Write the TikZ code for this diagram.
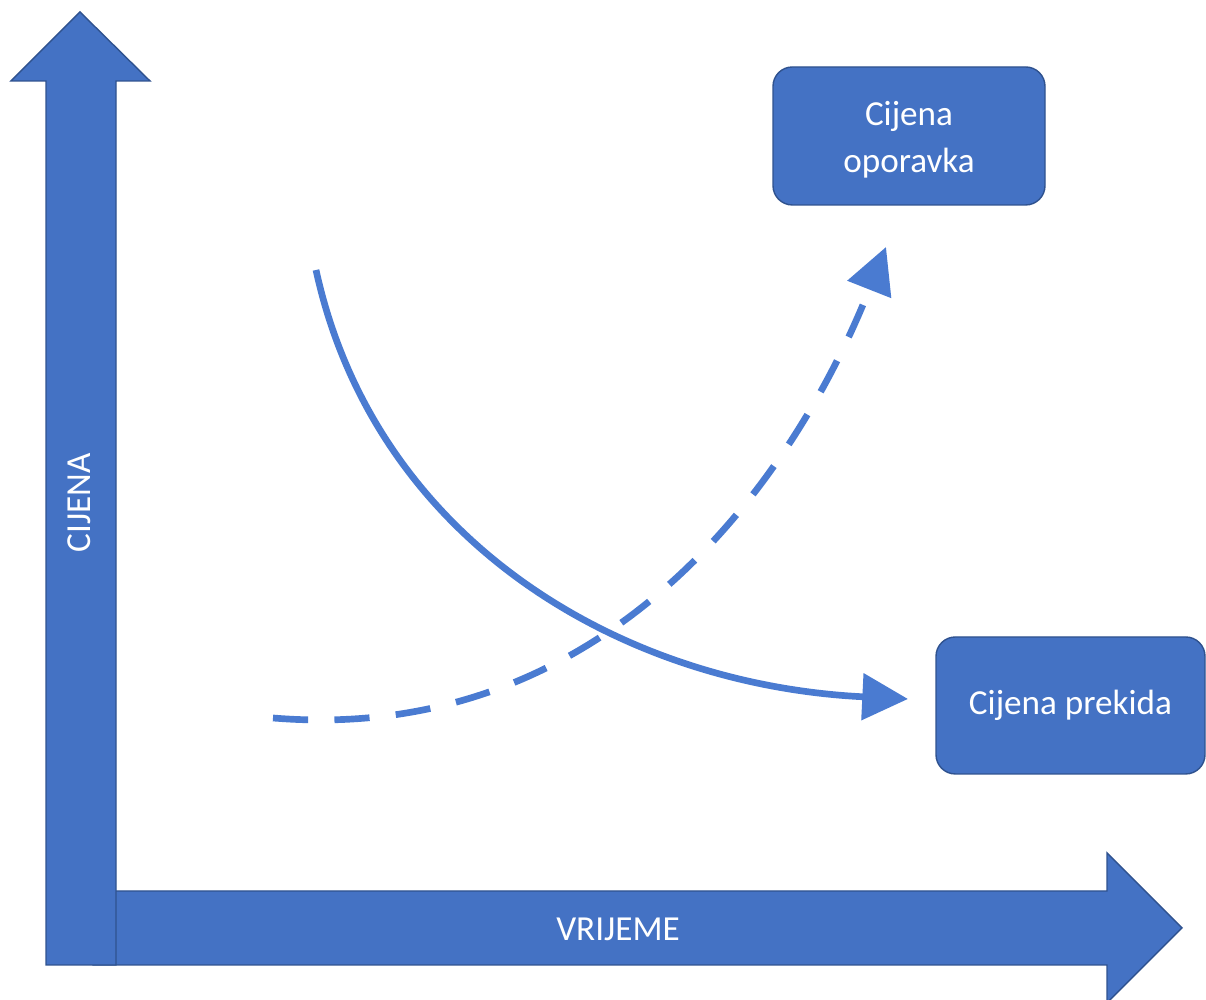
\documentclass[tikz,border=0pt]{standalone}
\usepackage{fontspec}
\setmainfont{Carlito}
\usetikzlibrary{arrows.meta}
\definecolor{boxblue}{HTML}{4472C4}
\definecolor{boxedge}{HTML}{2F528F}
\definecolor{curveblue}{HTML}{4A7BD1}
\begin{document}
\begin{tikzpicture}[>={Triangle[length=13pt,width=13pt]},
  box/.style={draw=boxedge,fill=boxblue,rounded corners=5.5pt,text=white,align=center,
    font=\fontsize{10}{13.4}\selectfont,minimum width=2.72cm,minimum height=1.38cm,inner sep=0pt},
  axis/.style={draw=boxedge,fill=boxblue,line width=0.4pt},
  axislabel/.style={text=white,font=\fontsize{10}{12}\selectfont,inner sep=0pt},
  curve/.style={curveblue,line width=1.9pt}]
\useasboundingbox (0,0) rectangle (12.06,10);
% vremenska os
\draw[axis] (0.93,0.35) -- (0.93,1.09) -- (11.07,1.09) -- (11.07,1.47) -- (11.82,0.72)
  -- (11.07,-0.03) -- (11.07,0.35) -- cycle;
% os cijene
\draw[axis] (0.46,0.35) -- (0.46,9.19) -- (0.11,9.19) -- (0.80,9.88) -- (1.50,9.19)
  -- (1.16,9.19) -- (1.16,0.35) -- cycle;
\node[axislabel] (vrijeme) at (6.18,0.71) {VRIJEME};
\node[axislabel,rotate=90] (cijena) at (0.79,4.97) {CIJENA};
\node[box] (oporavak) at (9.09,8.64) {\rule{0pt}{9pt}Cijena\\oporavka};
\node[box,minimum width=2.69cm,minimum height=1.37cm] (prekid) at (10.705,2.945) {Cijena prekida};
\coordinate (prekidpocetak) at (3.16,7.30);
\coordinate (prekidkraj) at (9.08,3.01);
\coordinate (oporavakpocetak) at (2.73,2.82);
\coordinate (oporavakkraj) at (8.86,7.53);
\draw[curve,->] (prekidpocetak) .. controls (3.75,4.60) and (6.20,3.15) .. (prekidkraj);
\draw[curve,->,dash pattern=on 10pt off 7.5pt] (oporavakpocetak) .. controls (6.00,2.55) and (7.90,5.10) .. (oporavakkraj);
\end{tikzpicture}
\end{document}
